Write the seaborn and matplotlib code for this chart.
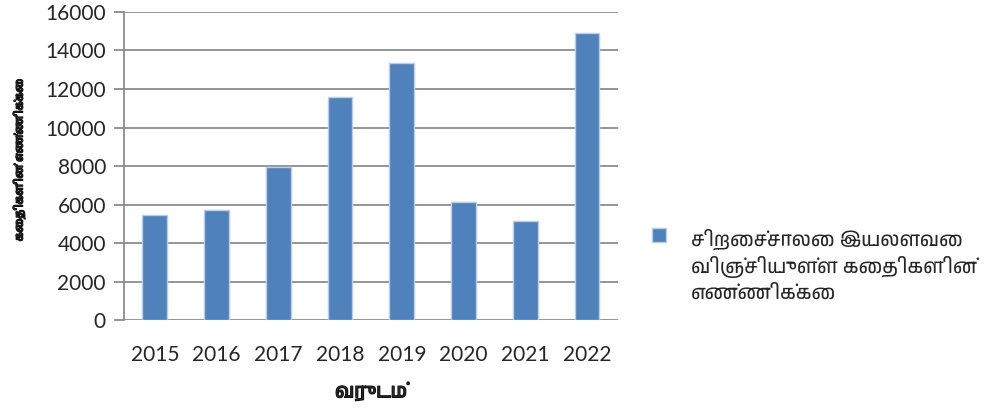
import matplotlib
matplotlib.use('Agg')
import matplotlib.pyplot as plt
import matplotlib.patheffects as pe
from matplotlib import font_manager
import pandas as pd
import seaborn as sns

# data
years = ['2015', '2016', '2017', '2018', '2019', '2020', '2021', '2022']
prisoners = [5450, 5700, 7950, 11600, 13350, 6130, 5140, 14900]
series_name = 'சிறைச்சாலை இயலளவை\nவிஞ்சியுள்ள கைதிகளின்\nஎண்ணிக்கை'
x_title = 'வருடம்'
y_title = 'கைதிகளின் எண்ணிக்கை'
y_ticks = [0, 2000, 4000, 6000, 8000, 10000, 12000, 14000, 16000]

sns.set_theme(style='white')
plt.rcParams['font.family'] = ['Lato', 'DejaVu Sans']
# Tamil needs a font with Tamil glyphs
installed = {f.name for f in font_manager.fontManager.ttflist}
tamil_fam = [f for f in ['Anek Tamil', 'FreeSans', 'FreeSerif'] if f in installed] + ['DejaVu Sans']

df = pd.DataFrame({'year': years, 'count': prisoners})

fig = plt.figure(figsize=(9.87, 4.12), dpi=100)
ax = fig.add_axes([0.1256, 0.223, 0.5004, 0.748])
sns.barplot(data=df, x='year', y='count', color='#4F81BD', width=0.4,
            edgecolor='#B9CDE5', linewidth=1, saturation=1, ax=ax,
            label=series_name)

ax.set_ylim(0, 16000)
ax.set_yticks(y_ticks)
ax.set_xlim(-0.5, len(years) - 0.5)
ax.yaxis.grid(True, color='#8C8C8C', linewidth=1.3)
ax.set_axisbelow(True)
for s in ['top', 'right', 'bottom']:
    ax.spines[s].set_visible(False)
ax.spines['left'].set_color('#8C8C8C')
ax.spines['left'].set_linewidth(1.3)
ax.tick_params(axis='y', direction='out', length=7, width=1.3, color='#8C8C8C',
               labelsize=15, pad=6, left=True)
ax.tick_params(axis='x', length=0, labelsize=15, pad=18)

# the Tamil font has no bold face, so thicken the axis titles with a stroke
bold = [pe.withStroke(linewidth=0.9, foreground='black')]
ax.set_xlabel(x_title, family=tamil_fam, fontsize=14, labelpad=12, path_effects=bold)
ax.set_ylabel(y_title, family=tamil_fam, fontsize=8, path_effects=bold)
ax.yaxis.set_label_coords(-0.2, 0.52)

leg = ax.legend(loc='upper left', bbox_to_anchor=(1.05, 0.33), frameon=False,
                prop={'family': tamil_fam, 'size': 14}, handlelength=0.7,
                handleheight=0.7, handletextpad=1.3, borderpad=0)
leg.get_texts()[0].set_linespacing(1.4)
# put the marker beside the first line of the label
for col in leg._legend_handle_box.get_children():
    for row in col.get_children():
        row.align = 'top'

fig.savefig('out.png', dpi=100)
